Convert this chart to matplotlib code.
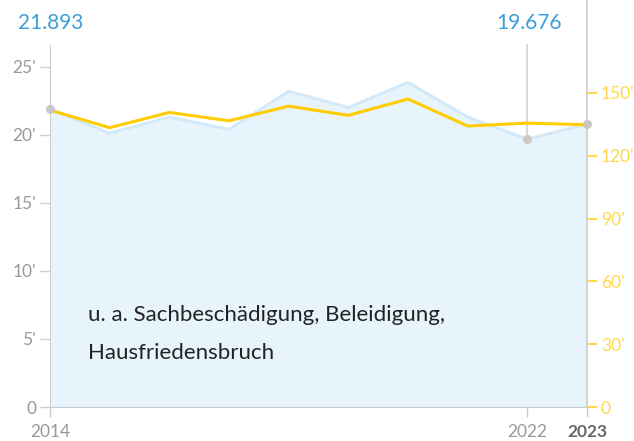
import matplotlib
matplotlib.use("Agg")
import matplotlib.pyplot as plt

years = [2014, 2015, 2016, 2017, 2018, 2019, 2020, 2021, 2022, 2023]
blue_values = [21.893, 20.12, 21.3, 20.4, 23.2, 22.0, 23.85, 21.3, 19.676, 20.8]  # thousands
yellow_values = [141.8, 133.4, 140.7, 136.7, 143.7, 139.3, 147.1, 134.2, 135.6, 134.8]  # thousands
left_ticks = [0, 5, 10, 15, 20, 25]
left_labels = ["0", "5'", "10'", "15'", "20'", "25'"]
right_ticks = [0, 30, 60, 90, 120, 150]
right_labels = ["0", "30'", "60'", "90'", "120'", "150'"]
x_ticks = [2014, 2022, 2023]
x_labels = ["2014", "2022", "2023"]
note = "u. a. Sachbeschädigung, Beleidigung,\nHausfriedensbruch"

FONT = "Lato"
plt.rcParams['font.family'] = [FONT, 'DejaVu Sans']

W, H = 634, 441
fig = plt.figure(figsize=(W / 100, H / 100), dpi=100)
L, R, B, T = 50, 587, 407, 45
ax = fig.add_axes([L / W, 1 - B / H, (R - L) / W, (B - T) / H])
ax2 = ax.twinx()

gray = "#999999"
axis_col = "#cccccc"
blue_text = "#3d9fd6"
fill_col = "#e8f4fc"
line_blue = "#d3e9f8"
yellow = "#ffcc00"
yellow_lab = "#ffd84d"

ax.fill_between(years, blue_values, 0, color=fill_col, lw=0, zorder=1)
ax.plot(years, blue_values, color=line_blue, lw=2.2, zorder=2)
ax.set_xlim(2014, 2023)
ax.set_ylim(0, 26.6)
ax2.set_ylim(0, 172.9)
ax2.plot(years, yellow_values, color=yellow, lw=2.2, zorder=3)

# right vertical line (full height to top of figure), drawn over the fill
ax2.plot([2023, 2023], [0, 172.9 * (B / (B - T))], color=axis_col, lw=1.2, zorder=2.5, clip_on=False)

# markers
ax.plot([years[8], years[8]], [blue_values[8], 26.6], color="#d5d5d5", lw=1.3, zorder=4, clip_on=False)
for i in [0, 8, 9]:
    ax2.plot(years[i], blue_values[i] * 172.9 / 26.6, 'o', ms=5.5, color="#c8c8c8", zorder=5, clip_on=False)

for a in (ax, ax2):
    for s in a.spines.values():
        s.set_visible(False)
ax.spines['left'].set_visible(True)
ax.spines['left'].set_color(axis_col)
ax.spines['bottom'].set_visible(True)
ax.spines['bottom'].set_color(axis_col)
ax.spines['bottom'].set_bounds(2014 - 7 / 59.67, 2023 + 7 / 59.67)

ax.set_yticks(left_ticks)
ax.set_yticklabels(left_labels)
ax.tick_params(axis='y', colors=axis_col, labelcolor=gray, length=7, width=1, labelsize=12.5, pad=3)
ax.set_xticks(x_ticks)
ax.set_xticklabels(x_labels)
ax.tick_params(axis='x', colors=axis_col, labelcolor=gray, length=7, width=1, labelsize=12.5, pad=5)
xl = ax.get_xticklabels()
xl[2].set_fontweight('bold')
xl[2].set_color("#666666")

ax2.set_yticks(right_ticks)
ax2.set_yticklabels(right_labels)
ax2.tick_params(axis='y', colors=yellow_lab, labelcolor=yellow_lab, length=7, width=1.5, labelsize=12.5, pad=3)

fig.text(18 / W, 1 - 23 / H, "21.893", color=blue_text, fontsize=15, va='center', ha='left')
fig.text(529 / W, 1 - 23 / H, "19.676", color=blue_text, fontsize=15, va='center', ha='center')

fig.text(88 / W, 1 - 315 / H, note.split("\n")[0], color="#222222", fontsize=16, va='center', ha='left')
fig.text(88 / W, 1 - 353 / H, note.split("\n")[1], color="#222222", fontsize=16, va='center', ha='left')

fig.savefig("out.png", dpi=100)
